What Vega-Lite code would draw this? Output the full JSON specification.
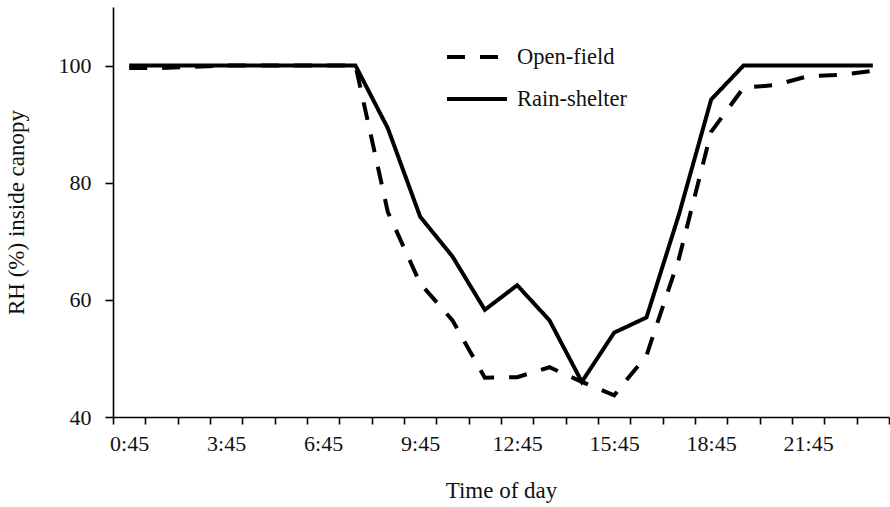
{
  "$schema": "https://vega.github.io/schema/vega-lite/v6.json",
  "autosize": "none",
  "padding": {"left": 113, "top": 7, "right": 1, "bottom": 90},
  "width": 776,
  "height": 410,
  "background": "white",
  "config": {
    "view": {"stroke": null},
    "font": "Liberation Serif",
    "axis": {"labelFont": "Liberation Serif", "titleFont": "Liberation Serif", "labelColor": "#111", "titleColor": "#111", "domainColor": "#000", "tickColor": "#000", "domainWidth": 1.6, "tickWidth": 1.6, "grid": false, "labelFontSize": 22, "titleFontSize": 23, "titleFontWeight": "normal"},
    "legend": {"labelFont": "Liberation Serif", "labelFontSize": 22.5, "labelColor": "#111"}
  },
  "data": {
    "values": [
      {"time": "0:45", "series": "Open-field", "rh": 99.6},
      {"time": "1:45", "series": "Open-field", "rh": 99.6},
      {"time": "2:45", "series": "Open-field", "rh": 99.8},
      {"time": "3:45", "series": "Open-field", "rh": 100},
      {"time": "4:45", "series": "Open-field", "rh": 100},
      {"time": "5:45", "series": "Open-field", "rh": 100},
      {"time": "6:45", "series": "Open-field", "rh": 100},
      {"time": "7:45", "series": "Open-field", "rh": 100},
      {"time": "8:45", "series": "Open-field", "rh": 75},
      {"time": "9:45", "series": "Open-field", "rh": 62.8},
      {"time": "10:45", "series": "Open-field", "rh": 56.5},
      {"time": "11:45", "series": "Open-field", "rh": 46.7},
      {"time": "12:45", "series": "Open-field", "rh": 46.8},
      {"time": "13:45", "series": "Open-field", "rh": 48.5},
      {"time": "14:45", "series": "Open-field", "rh": 46.0},
      {"time": "15:45", "series": "Open-field", "rh": 43.7},
      {"time": "16:45", "series": "Open-field", "rh": 50.5},
      {"time": "17:45", "series": "Open-field", "rh": 67},
      {"time": "18:45", "series": "Open-field", "rh": 88.7},
      {"time": "19:45", "series": "Open-field", "rh": 96.2},
      {"time": "20:45", "series": "Open-field", "rh": 96.7},
      {"time": "21:45", "series": "Open-field", "rh": 98.2},
      {"time": "22:45", "series": "Open-field", "rh": 98.4},
      {"time": "23:45", "series": "Open-field", "rh": 99.1},
      {"time": "0:45", "series": "Rain-shelter", "rh": 100},
      {"time": "1:45", "series": "Rain-shelter", "rh": 100},
      {"time": "2:45", "series": "Rain-shelter", "rh": 100},
      {"time": "3:45", "series": "Rain-shelter", "rh": 100},
      {"time": "4:45", "series": "Rain-shelter", "rh": 100},
      {"time": "5:45", "series": "Rain-shelter", "rh": 100},
      {"time": "6:45", "series": "Rain-shelter", "rh": 100},
      {"time": "7:45", "series": "Rain-shelter", "rh": 100},
      {"time": "8:45", "series": "Rain-shelter", "rh": 89.3},
      {"time": "9:45", "series": "Rain-shelter", "rh": 74.2},
      {"time": "10:45", "series": "Rain-shelter", "rh": 67.4},
      {"time": "11:45", "series": "Rain-shelter", "rh": 58.3},
      {"time": "12:45", "series": "Rain-shelter", "rh": 62.5},
      {"time": "13:45", "series": "Rain-shelter", "rh": 56.5},
      {"time": "14:45", "series": "Rain-shelter", "rh": 46.0},
      {"time": "15:45", "series": "Rain-shelter", "rh": 54.4},
      {"time": "16:45", "series": "Rain-shelter", "rh": 57.0},
      {"time": "17:45", "series": "Rain-shelter", "rh": 74.5},
      {"time": "18:45", "series": "Rain-shelter", "rh": 94.2},
      {"time": "19:45", "series": "Rain-shelter", "rh": 100},
      {"time": "20:45", "series": "Rain-shelter", "rh": 100},
      {"time": "21:45", "series": "Rain-shelter", "rh": 100},
      {"time": "22:45", "series": "Rain-shelter", "rh": 100},
      {"time": "23:45", "series": "Rain-shelter", "rh": 100}
    ]
  },
  "mark": {"type": "line", "color": "#000", "strokeWidth": 4, "strokeJoin": "miter"},
  "encoding": {
    "x": {
      "field": "time", "type": "ordinal", "sort": null, "bandPosition": 0.5,
      "scale": {"type": "band", "paddingInner": 0, "paddingOuter": 0},
      "axis": {
        "title": "Time of day", "labelAngle": 0, "tickBand": "extent", "tickSize": 7,
        "labelPadding": 9, "titlePadding": 25, "labelOverlap": false,
        "labelExpr": "indexof(['0:45','3:45','6:45','9:45','12:45','15:45','18:45','21:45'], datum.value) >= 0 ? datum.label : ''"
      }
    },
    "y": {
      "field": "rh", "type": "quantitative",
      "scale": {"domain": [40, 110], "nice": false, "zero": false},
      "axis": {"title": "RH (%) inside canopy", "values": [40, 60, 80, 100], "tickSize": 8, "labelPadding": 14, "titlePadding": 30}
    },
    "strokeDash": {
      "field": "series", "type": "nominal",
      "scale": {"domain": ["Open-field", "Rain-shelter"], "range": [[18, 15], [1, 0]]},
      "legend": {
        "title": null, "orient": "none", "legendX": 352, "legendY": 38,
        "symbolType": "M-3,0H3", "symbolSize": 400, "symbolStrokeWidth": 4, "symbolStrokeColor": "#000",
        "labelOffset": 28, "rowPadding": 18, "padding": 0
      }
    }
  }
}
